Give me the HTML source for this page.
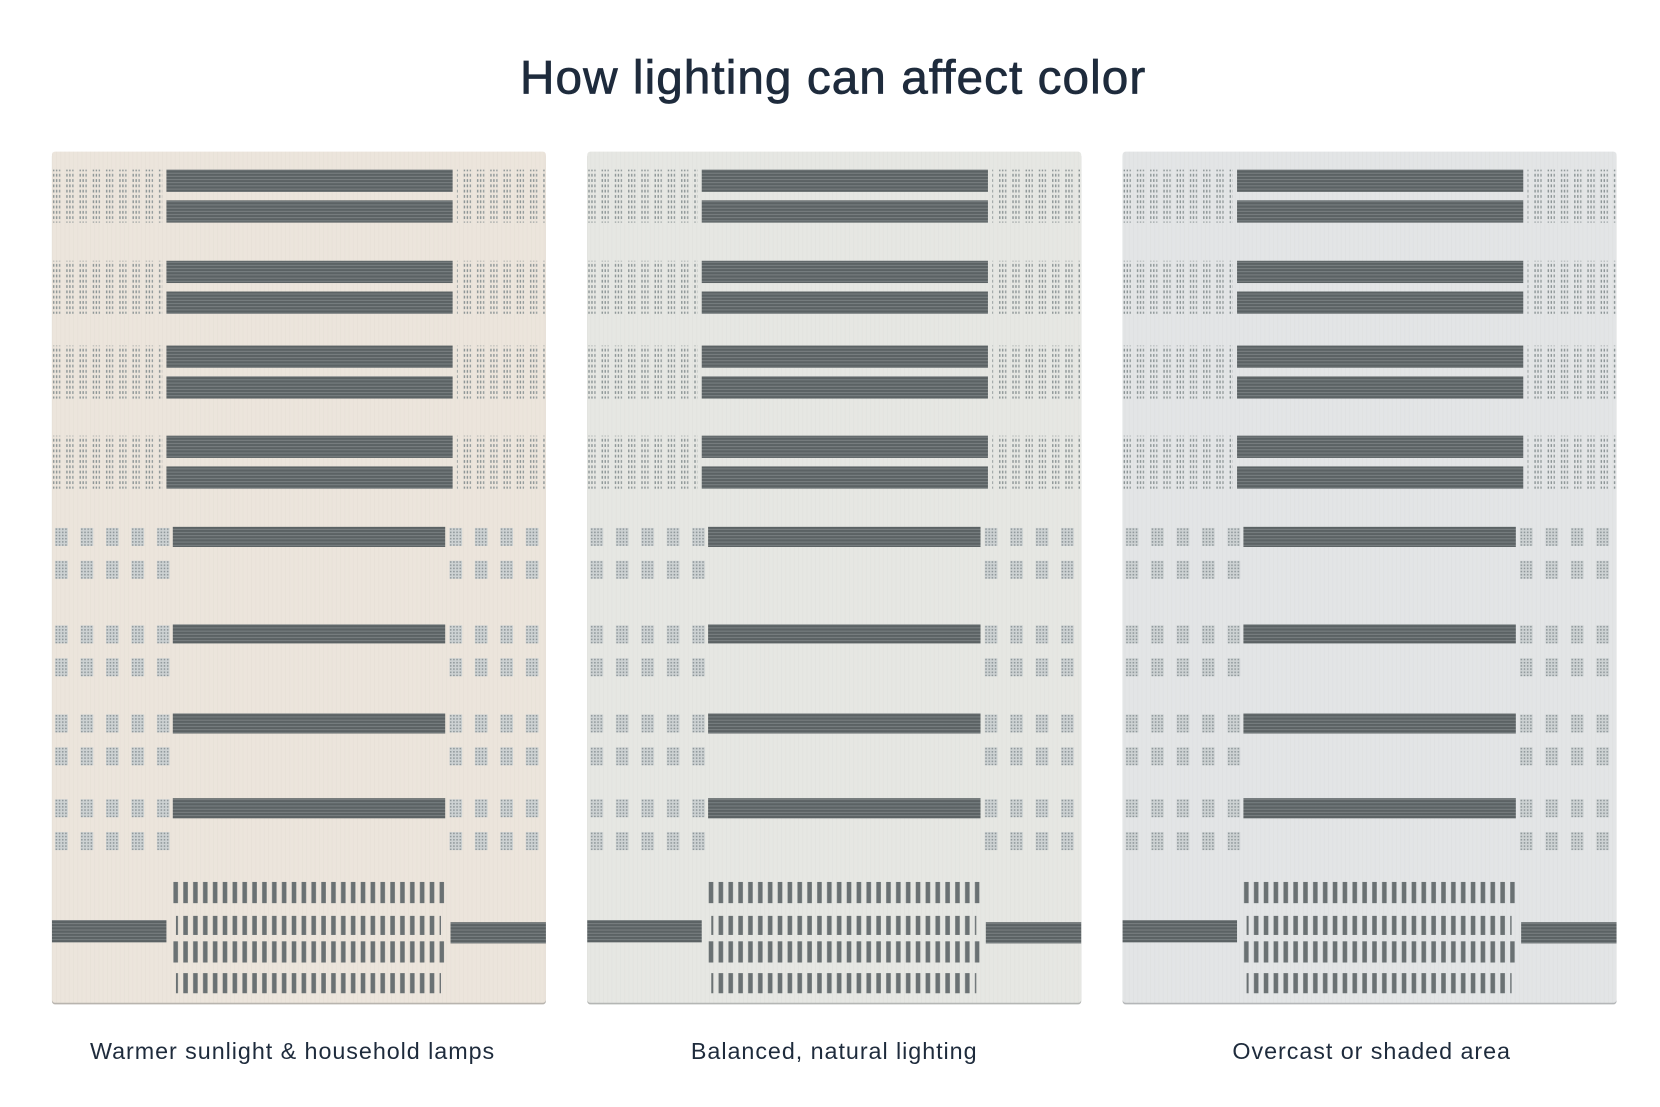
<!DOCTYPE html>
<html><head><meta charset="utf-8"><style>
html,body{margin:0;padding:0;background:#fff;}
svg{display:block;}
</style></head><body>
<svg width="1660" height="1107" viewBox="0 0 1566 1044.3" xmlns="http://www.w3.org/2000/svg">
<defs>
<pattern id="dots" width="12.5" height="5" patternUnits="userSpaceOnUse">
<rect x="1" y="1" width="1.3" height="2.6" fill="#8a9394"/>
<rect x="3.8" y="1" width="1.3" height="2.6" fill="#8a9394"/>
<rect x="6.6" y="1" width="1.3" height="2.6" fill="#949c9d"/>
</pattern>
<pattern id="bar" width="10" height="3" patternUnits="userSpaceOnUse">
<rect width="10" height="3" fill="#5b6264"/>
<rect y="2" width="10" height="0.7" fill="#858b8d"/>
</pattern>
<pattern id="sq" width="3" height="3" patternUnits="userSpaceOnUse">
<rect width="3" height="3" fill="#cdd2d3"/>
<rect x="0.5" y="0.5" width="1.4" height="1.4" fill="#8a9396"/>
</pattern>
<pattern id="tick" width="9.3" height="30" patternUnits="userSpaceOnUse">
<rect x="3" y="0" width="4.3" height="30" fill="#6a7173"/>
</pattern>
<pattern id="grain" width="4" height="10" patternUnits="userSpaceOnUse">
<rect x="1" width="0.6" height="10" fill="#000" opacity="0.025"/>
</pattern>
<g id="sqrow">
<rect x="3" y="0" width="12" height="17" fill="url(#sq)"/>
<rect x="27" y="0" width="12" height="17" fill="url(#sq)"/>
<rect x="51" y="0" width="12" height="17" fill="url(#sq)"/>
<rect x="75" y="0" width="12" height="17" fill="url(#sq)"/>
<rect x="99" y="0" width="12" height="17" fill="url(#sq)"/>
<rect x="375" y="0" width="12" height="17" fill="url(#sq)"/>
<rect x="399" y="0" width="12" height="17" fill="url(#sq)"/>
<rect x="423" y="0" width="12" height="17" fill="url(#sq)"/>
<rect x="447" y="0" width="12" height="17" fill="url(#sq)"/>
</g>
<g id="content">
<rect x="0" y="17" width="104" height="50" fill="url(#dots)"/>
<rect x="382" y="17" width="84" height="50" fill="url(#dots)"/>
<rect x="0" y="103" width="104" height="50" fill="url(#dots)"/>
<rect x="382" y="103" width="84" height="50" fill="url(#dots)"/>
<rect x="0" y="183" width="104" height="50" fill="url(#dots)"/>
<rect x="382" y="183" width="84" height="50" fill="url(#dots)"/>
<rect x="0" y="268" width="104" height="50" fill="url(#dots)"/>
<rect x="382" y="268" width="84" height="50" fill="url(#dots)"/>
<rect x="108" y="17" width="270" height="21" fill="url(#bar)"/>
<rect x="108" y="46" width="270" height="21" fill="url(#bar)"/>
<rect x="108" y="103" width="270" height="21" fill="url(#bar)"/>
<rect x="108" y="132" width="270" height="21" fill="url(#bar)"/>
<rect x="108" y="183" width="270" height="21" fill="url(#bar)"/>
<rect x="108" y="212" width="270" height="21" fill="url(#bar)"/>
<rect x="108" y="268" width="270" height="21" fill="url(#bar)"/>
<rect x="108" y="297" width="270" height="21" fill="url(#bar)"/>
<rect x="114" y="354" width="257" height="19" fill="url(#bar)"/>
<rect x="114" y="446" width="257" height="18" fill="url(#bar)"/>
<rect x="114" y="530" width="257" height="19" fill="url(#bar)"/>
<rect x="114" y="610" width="257" height="19" fill="url(#bar)"/>
<use href="#sqrow" y="355"/><use href="#sqrow" y="386"/>
<use href="#sqrow" y="447"/><use href="#sqrow" y="478"/>
<use href="#sqrow" y="531"/><use href="#sqrow" y="562"/>
<use href="#sqrow" y="611"/><use href="#sqrow" y="642"/>
<rect x="114" y="689" width="256" height="20" fill="url(#tick)"/>
<rect x="117" y="721" width="250" height="18" fill="url(#tick)"/>
<rect x="114" y="745" width="256" height="20" fill="url(#tick)"/>
<rect x="117" y="775" width="250" height="19" fill="url(#tick)"/>
<rect x="0" y="725" width="108" height="21" fill="url(#bar)"/>
<rect x="376" y="727" width="90" height="20" fill="url(#bar)"/>
</g>
</defs>
<text x="786" y="88" text-anchor="middle" font-family="Liberation Sans, sans-serif" font-size="45" letter-spacing="1" fill="#1e2b3c" stroke="#1e2b3c" stroke-width="0.7">How lighting can affect color</text>

<rect x="49" y="144.5" width="466" height="803" rx="3" fill="#b8b4ae"/>
<rect x="49" y="143" width="466" height="803" rx="3" fill="#ece5dc"/>
<rect x="49" y="143" width="466" height="803" fill="url(#grain)"/>
<use href="#content" x="49" y="143"/>

<rect x="554" y="144.5" width="466" height="803" rx="3" fill="#b4b6b4"/>
<rect x="554" y="143" width="466" height="803" rx="3" fill="#e6e7e3"/>
<rect x="554" y="143" width="466" height="803" fill="url(#grain)"/>
<use href="#content" x="554" y="143"/>

<rect x="1059" y="144.5" width="466" height="803" rx="3" fill="#b4b6b8"/>
<rect x="1059" y="143" width="466" height="803" rx="3" fill="#e3e5e6"/>
<rect x="1059" y="143" width="466" height="803" fill="url(#grain)"/>
<use href="#content" x="1059" y="143"/>

<g font-family="Liberation Sans, sans-serif" font-size="22" letter-spacing="0.9" fill="#1e2b3c" text-anchor="middle">
<text x="276" y="999">Warmer sunlight &amp; household lamps</text>
<text x="787" y="999">Balanced, natural lighting</text>
<text x="1294" y="999">Overcast or shaded area</text>
</g>
</svg>
</body></html>
